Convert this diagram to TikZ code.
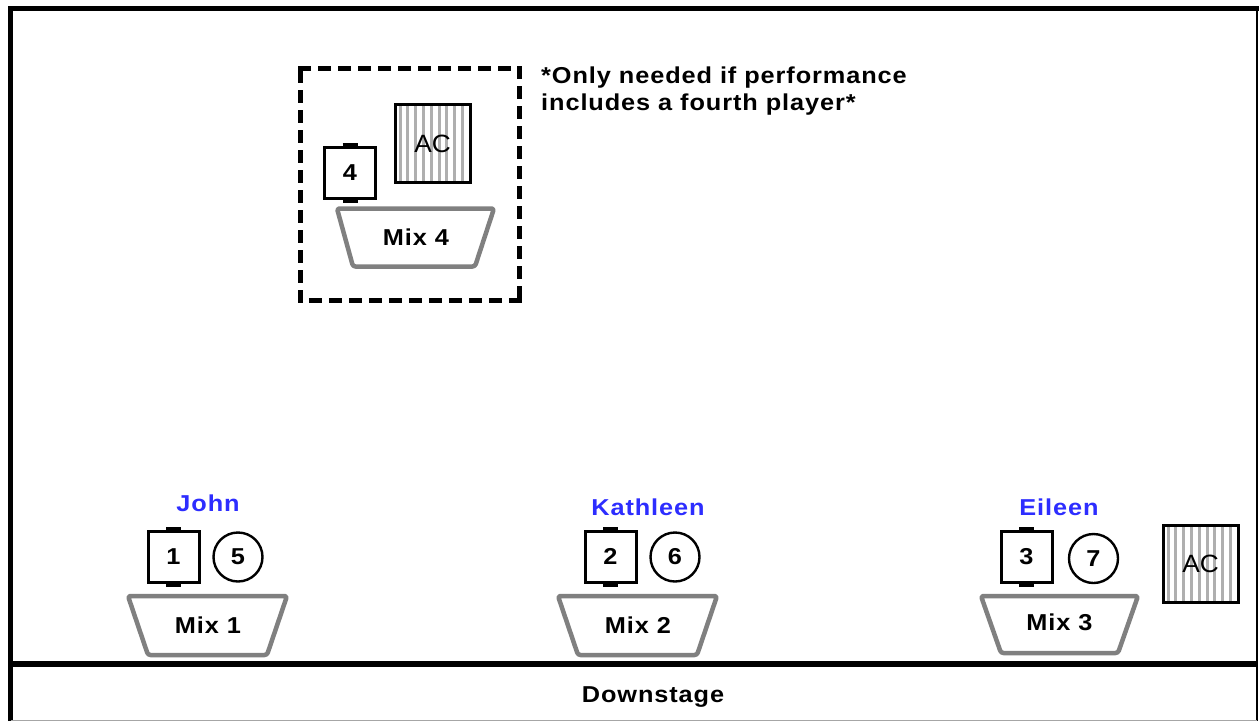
\documentclass[tikz,border=0pt]{standalone}
\usepackage{fontspec}
\setmainfont{Liberation Sans}
\newfontfamily\df[FakeStretch=1.1,LetterSpace=4]{Liberation Sans}
\newfontfamily\acf[FakeStretch=1.05]{Liberation Sans}
\definecolor{mixgray}{RGB}{128,128,128}
\definecolor{stripe}{RGB}{175,175,175}
\definecolor{namec}{RGB}{45,45,255}
\begin{document}
\begin{tikzpicture}[x=1pt,y=-1pt,
  txt/.style={font=\df\bfseries\fontsize{23}{27}\selectfont, inner sep=0pt},
  lbl/.style={txt, anchor=base},
  who/.style={lbl, text=namec},
  mixline/.style={draw=mixgray, line width=4.5, line join=round, rounded corners=2.5},
  numbox/.style={draw, line width=3, minimum width=51, minimum height=51, inner sep=0pt, txt},
  numcirc/.style={circle, draw, line width=2.4, minimum size=49, inner sep=0pt, txt},
  acbox/.style={draw, line width=3, inner sep=0pt},
  actxt/.style={inner sep=0pt, anchor=base, font=\acf\fontsize{25}{28}\selectfont},
  tab/.style={line width=3.2},
  dsh/.style={line width=5, line cap=rect, dash pattern=on 8pt off 12pt}
]
\useasboundingbox (0,0) rectangle (1259,721);
\fill[white] (0,0) rectangle (1259,721);

% frame
\draw[line width=5] (10.7,721) -- (10.7,8.5) -- (1259,8.5);
\draw[line width=1.6] (1257,8.5) -- (1257,721);
\draw[line width=6] (10.7,663.7) -- (1257,663.7);
\draw[black!35, line width=1.2] (10.7,720.4) -- (1257,720.4);
\node[lbl] (down) at (653,702) {Downstage};

% optional fourth player area
\draw[dsh] (300,68) -- (519.5,68);
\draw[dsh] (519.5,68) -- (519.5,300);
\draw[dsh] (519.5,300) -- (300,300);
\draw[dsh] (300,300) -- (300,68);
\node[lbl, anchor=base west, align=left] (note1) at (541,83) {*Only needed if performance};
\node[lbl, anchor=base west, align=left] (note2) at (541,110) {includes a fourth player*};

% AC unit in area
\begin{scope}
  \clip (395,104) rectangle (470,182);
  \foreach \i in {0,...,9} {\draw[stripe, line width=3] (400+\i*7.8,100) -- (400+\i*7.8,186);}
\end{scope}
\draw[acbox] (395,104) rectangle (470,182);
\node[actxt] (ac1) at (432.5,152) {AC};

% player 4
\node[numbox] (b4) at (350,172.5) {4};
\draw[tab] ([xshift=-7.5,yshift=1.4]b4.north) -- ([xshift=7.5,yshift=1.4]b4.north);
\draw[tab] ([xshift=-7.5,yshift=-1.4]b4.south) -- ([xshift=7.5,yshift=-1.4]b4.south);
\draw[mixline] (337,208.5) -- (494,208.5) -- (475,266.5) -- (353,266.5) -- cycle;
\node[lbl] (mix4) at (416,245) {Mix 4};

% John
\node[who] (john) at (208,511.5) {John};
\node[numbox] (b1) at (173.5,556.5) {1};
\draw[tab] ([xshift=-7.5,yshift=1.4]b1.north) -- ([xshift=7.5,yshift=1.4]b1.north);
\draw[tab] ([xshift=-7.5,yshift=-1.4]b1.south) -- ([xshift=7.5,yshift=-1.4]b1.south);
\node[numcirc] (c5) at (238,557) {5};
\draw[mixline] (128,596) -- (287,596) -- (267,655) -- (148,655) -- cycle;
\node[lbl] (mix1) at (208,633) {Mix 1};

% Kathleen
\node[who] (kath) at (648,515.5) {Kathleen};
\node[numbox] (b2) at (610.5,556.5) {2};
\draw[tab] ([xshift=-7.5,yshift=1.4]b2.north) -- ([xshift=7.5,yshift=1.4]b2.north);
\draw[tab] ([xshift=-7.5,yshift=-1.4]b2.south) -- ([xshift=7.5,yshift=-1.4]b2.south);
\node[numcirc] (c6) at (675,557) {6};
\draw[mixline] (558,596) -- (717,596) -- (697,655) -- (578,655) -- cycle;
\node[lbl] (mix2) at (638,633) {Mix 2};

% Eileen
\node[who] (eil) at (1059,515.5) {Eileen};
\node[numbox] (b3) at (1026.5,557) {3};
\draw[tab] ([xshift=-7.5,yshift=1.4]b3.north) -- ([xshift=7.5,yshift=1.4]b3.north);
\draw[tab] ([xshift=-7.5,yshift=-1.4]b3.south) -- ([xshift=7.5,yshift=-1.4]b3.south);
\node[numcirc] (c7) at (1093.5,558.5) {7};
\draw[mixline] (981,596) -- (1138,596) -- (1118,653) -- (1001,653) -- cycle;
\node[lbl] (mix3) at (1059.5,630) {Mix 3};

% AC unit downstage right
\begin{scope}
  \clip (1163,525) rectangle (1238,602);
  \foreach \i in {0,...,9} {\draw[stripe, line width=3] (1168+\i*7.8,520) -- (1168+\i*7.8,606);}
\end{scope}
\draw[acbox] (1163,525) rectangle (1238,602);
\node[actxt] (ac2) at (1200.5,572) {AC};
\end{tikzpicture}
\end{document}
